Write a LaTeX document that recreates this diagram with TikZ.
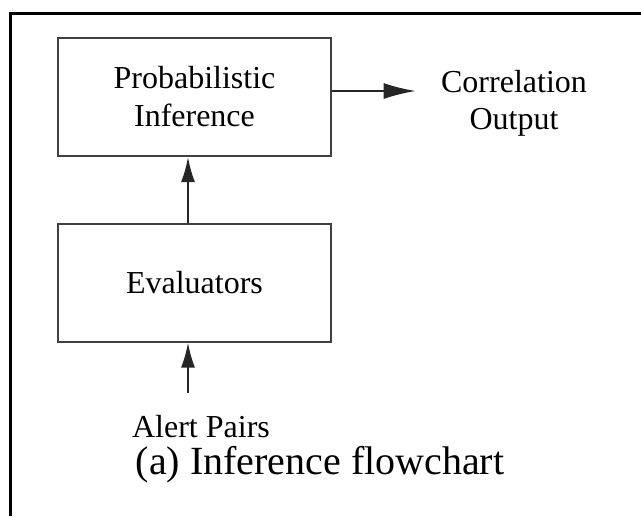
\documentclass[tikz,border=0pt]{standalone}
\usepackage{fontspec}
\setmainfont{Liberation Serif}
\usepackage{tikz}
\usetikzlibrary{arrows.meta,positioning}
\tikzstyle{block} = [draw=black!75, line width=1pt, rectangle, inner sep=0pt, minimum width=136.5pt, minimum height=59pt, align=center, font=\fontsize{16}{19}\selectfont]
\tikzstyle{txt} = [inner sep=0pt, align=center, font=\fontsize{16}{18.5}\selectfont]
\tikzstyle{flow} = [line width=1pt, draw=black!85, -{Latex[length=12.5pt,width=7pt]}]

\begin{document}
\begin{tikzpicture}[x=0.5pt,y=-0.5pt]
    \useasboundingbox (0,0) rectangle (641,516);
    \draw [line width=1.5pt] (10.5,516) |- (641,13.5);

    \node [block] (infer) at (194.5,97) {Probabilistic\\Inference};
    \node [block] (eval) at (194.5,282.5) {Evaluators};
    \node [txt] (corr) at (514,103) {Correlation\\Output};
    \node [txt] (pairs) at (201,427) {Alert Pairs};
    \node [inner sep=0pt, font=\fontsize{20}{24}\selectfont] (caption) at (320,465) {(a) Inference flowchart};
    \coordinate (pin) at (188,393);

    \draw [flow, -{Latex[length=16pt,width=8pt]}, shorten >=12.5pt] ([yshift=3pt]infer.east) -- ([yshift=3pt]infer.east -| corr.west);
    \draw [flow] ([xshift=-3.25pt]eval.north) -- ([xshift=-3.25pt]infer.south);
    \draw [flow] (pin) -- (pin |- eval.south);
\end{tikzpicture}
\end{document}
